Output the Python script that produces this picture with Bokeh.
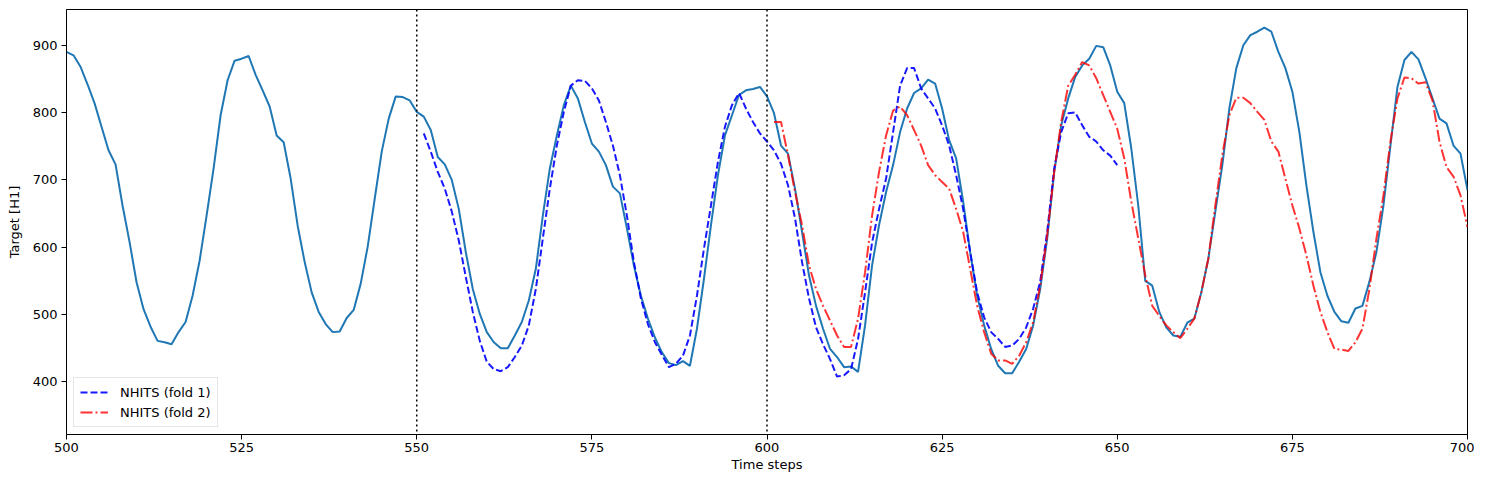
from bokeh.plotting import figure
from bokeh.models import Span, Range1d, FixedTicker, Legend, LegendItem
from bokeh.embed import file_html
from bokeh.resources import INLINE

# ---- data ----
x_target = list(range(500, 701))
y_target = [
    890, 885, 868, 842, 814, 779, 744, 723, 662, 608,
    548, 508, 482, 461, 459, 456, 474, 489, 528, 580,
    647, 717, 796, 848, 877, 880, 884, 856, 833, 809,
    766, 756, 702, 632, 578, 533, 504, 486, 474, 475,
    495, 507, 546, 601, 672, 742, 791, 824, 823, 818,
    801, 794, 774, 734, 723, 700, 657, 593, 538, 501,
    474, 459, 450, 450, 469, 489, 521, 568, 647, 717,
    766, 811, 840, 821, 786, 754, 742, 722, 690, 680,
    628, 573, 528, 494, 466, 444, 428, 425, 431, 424,
    479, 553, 633, 707, 766, 796, 826, 833, 835, 838,
    824, 799, 751, 739, 687, 623, 558, 513, 479, 449,
    437, 422, 423, 415, 484, 573, 633, 682, 722, 771,
    806, 829, 836, 849, 843, 806, 759, 732, 668, 593,
    528, 484, 449, 424, 413, 413, 430, 449, 484, 538,
    613, 712, 781, 821, 853, 870, 880, 899, 897, 870,
    831, 814, 747, 662, 550, 543, 504, 481, 469, 467,
    488, 494, 533, 583, 653, 722, 806, 866, 900, 915,
    920, 926, 920, 890, 866, 831, 771, 692, 623, 563,
    528, 504, 490, 488, 509, 513, 549, 593, 662, 751,
    838, 878, 890, 879, 851, 821, 791, 784, 751, 739,
    685,
]

x_fold1 = list(range(551, 651))
y_fold1 = [
    769, 742, 712, 687, 653, 610, 556, 504, 461, 430,
    419, 416, 422, 437, 454, 484, 538, 613, 687, 751,
    801, 840, 848, 847, 836, 818, 786, 751, 707, 647,
    578, 524, 486, 459, 440, 422, 427, 439, 469, 528,
    598, 662, 727, 779, 811, 829, 806, 786, 769, 757,
    744, 724, 692, 643, 578, 524, 481, 456, 434, 408,
    410, 419, 464, 533, 607, 657, 702, 771, 840, 866,
    866, 836, 821, 806, 781, 751, 707, 657, 593, 533,
    496, 474, 464, 452, 454, 464, 481, 509, 549, 623,
    717, 771, 799, 800, 781, 764, 757, 744, 736, 722,
]

x_fold2 = list(range(601, 701))
y_fold2 = [
    786, 786, 737, 682, 633, 573, 538, 513, 491, 469,
    452, 452, 494, 563, 647, 712, 766, 803, 809, 796,
    774, 751, 722, 707, 697, 687, 657, 623, 568, 513,
    474, 442, 432, 432, 427, 439, 459, 489, 543, 618,
    712, 786, 840, 856, 875, 870, 851, 826, 801, 776,
    732, 668, 613, 558, 513, 498, 484, 474, 465, 479,
    494, 533, 583, 662, 737, 796, 822, 822, 814, 801,
    789, 757, 742, 702, 662, 628, 588, 543, 504, 474,
    449, 448, 446, 459, 479, 538, 613, 677, 757, 821,
    852, 851, 843, 845, 818, 757, 719, 705, 677, 630,
]

split_points = [550, 600]
x_ticks = [500, 525, 550, 575, 600, 625, 650, 675, 700]
y_ticks = [400, 500, 600, 700, 800, 900]

FONT = "DejaVu Sans"

p = figure(
    width=1474, height=474,
    output_backend="svg", toolbar_location=None,
    x_range=Range1d(500, 700), y_range=Range1d(322, 953),
    min_border_left=66, min_border_right=7,
    min_border_top=9, min_border_bottom=39,
)
p.background_fill_color = "white"
p.border_fill_color = "white"
p.outline_line_color = "black"
p.outline_line_width = 1
p.xgrid.visible = False
p.ygrid.visible = False

for ax in (p.xaxis[0], p.yaxis[0]):
    ax.axis_line_color = "black"
    ax.major_tick_line_color = "black"
    ax.major_tick_out = 5
    ax.major_tick_in = 0
    ax.minor_tick_line_color = None
    ax.major_label_text_font = FONT
    ax.major_label_text_font_size = "13px"
    ax.major_label_text_color = "black"
    ax.axis_label_text_font = FONT
    ax.axis_label_text_font_size = "13px"
    ax.axis_label_text_font_style = "normal"
    ax.axis_label_text_color = "black"

p.xaxis.ticker = FixedTicker(ticks=x_ticks)
p.yaxis.ticker = FixedTicker(ticks=y_ticks)
p.xaxis.axis_label = "Time steps"
p.yaxis.axis_label = "Target [H1]"
p.xaxis.major_label_standoff = 3
p.xaxis.axis_label_standoff = 2
p.yaxis.major_label_standoff = 4
p.yaxis.axis_label_standoff = 8

for sp in split_points:
    p.add_layout(Span(location=sp, dimension="height", line_color="black",
                      line_width=1.5, line_dash="2 3"))

p.line(x_target, y_target, line_color="#1f77b4", line_width=2)
r1 = p.line(x_fold1, y_fold1, line_color="#0000ff", line_width=2,
            line_dash="7 3", line_alpha=0.9)
r2 = p.line(x_fold2, y_fold2, line_color="#ff0000", line_width=2,
            line_dash="12 3 2 3", line_alpha=0.8)

legend = Legend(items=[LegendItem(label="NHITS (fold 1)", renderers=[r1]),
                       LegendItem(label="NHITS (fold 2)", renderers=[r2])],
                location="bottom_left")
legend.label_text_font = FONT
legend.label_text_font_size = "13px"
legend.label_text_color = "black"
legend.border_line_color = "#cccccc"
legend.border_line_width = 1
legend.background_fill_alpha = 0.8
legend.glyph_width = 28
legend.glyph_height = 14
legend.label_standoff = 12
legend.spacing = 4
legend.padding = 6
legend.margin = 7
legend.label_height = 16
p.add_layout(legend)

open("out.html", "w").write(file_html(p, INLINE))
